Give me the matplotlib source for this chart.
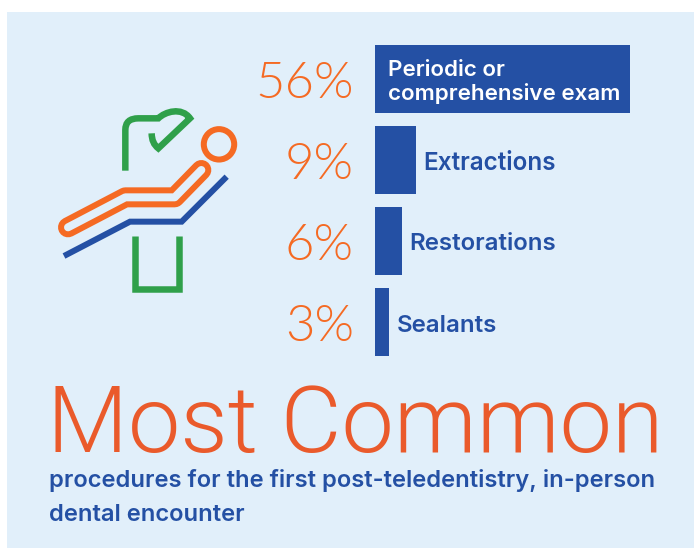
import os
import matplotlib
matplotlib.use("Agg")
import matplotlib.pyplot as plt
from matplotlib.patches import Rectangle, Circle, PathPatch
from matplotlib.path import Path
from matplotlib import font_manager as fm

# Chart data
categories = ["Periodic or\ncomprehensive exam", "Extractions", "Restorations", "Sealants"]
percents = [56, 9, 6, 3]
percent_labels = ["56%", "9%", "6%", "3%"]
title = "Most Common"
subtitle = ["procedures for the first post-teledentistry, in-person", "dental encounter"]

W, H = 694, 548
BG = "#E1EFFA"
BLUE = "#2450A4"
ORANGE = "#F56A23"
RED = "#EA5A2B"
GREEN = "#2FA04A"


def font_file(names, size):
    """Pick the first available face from a list of font file names."""
    files = {os.path.basename(f.fname): f.fname for f in fm.fontManager.ttflist}
    path = next(files[n] for n in names if n in files)
    return fm.FontProperties(fname=path, size=size)


LABEL_FACE = ["Inter-SemiBold.otf", "Inter-Medium.otf"]

fig = plt.figure(figsize=(W / 100, H / 100), dpi=100, facecolor="white")


def pixel_axes(z):
    ax = fig.add_axes([0, 0, 1, 1], zorder=z)
    ax.set_xlim(0, W)
    ax.set_ylim(H, 0)
    ax.axis("off")
    return ax


canvas = pixel_axes(0)
canvas.add_patch(Rectangle((7, 12), W - 7, 536, fc=BG, ec="none"))

# Horizontal bars on their own axes, 4.55 px per percentage point
bars = fig.add_axes([375 / W, 1 - 356 / H, 273 / W, 311 / H], zorder=1)
bars.barh(range(4), percents, height=68 / 81, color=BLUE)
bars.set_xlim(0, 60)
bars.set_ylim(3 + 34 / 81, -34 / 81)
bars.axis("off")

labels = pixel_axes(2)
centers = [79, 160, 241, 322]
text_x = [388, 423.5, 409.5, 397]
text_dy = [3, 3.5, 3.5, 3.5]
label_sizes = [16.1, 17.5, 17.3, 17.3]
for i, (y, pct, cat) in enumerate(zip(centers, percent_labels, categories)):
    labels.text(354, y + 19, pct, ha="right", va="baseline", color=ORANGE,
                fontproperties=font_file(["Lato-Light.ttf"], 36.5))
    labels.text(text_x[i], y + text_dy[i], cat, ha="left", va="center", linespacing=1.2,
                fontproperties=font_file(LABEL_FACE, label_sizes[i]),
                color="white" if i == 0 else BLUE)

labels.text(47, 452, title, ha="left", va="baseline", color=RED,
            fontproperties=font_file(["Roboto-Light.ttf"], 67.3))
labels.text(49, 487, subtitle[0], ha="left", va="baseline", color=BLUE,
            fontproperties=font_file(LABEL_FACE, 17.1))
labels.text(49, 521, subtitle[1], ha="left", va="baseline", color=BLUE,
            fontproperties=font_file(LABEL_FACE, 17.1))


# Dental chair icon, drawn on a 3x grid offset to its spot in the panel
def ic(x, y):
    return (40 + x / 3, 90 + y / 3)


def stroke(pts, color, px, **kw):
    xs, ys = zip(*[ic(*p) for p in pts])
    canvas.plot(xs, ys, color=color, lw=px * 0.72, **kw)


stroke([(284, 438), (284, 596), (418, 596), (418, 438)], GREEN, 6.5,
       solid_joinstyle="miter", solid_capstyle="butt")
stroke([(72, 498), (270, 395), (425, 395), (560, 260)], BLUE, 6,
       solid_joinstyle="miter", solid_capstyle="butt")
seat = [(84, 412), (256, 322), (404, 322), (484, 240)]
stroke(seat, ORANGE, 20, solid_joinstyle="round", solid_capstyle="round")
stroke(seat, BG, 8, solid_joinstyle="round", solid_capstyle="round")
canvas.add_patch(Circle(ic(537, 163), 15.2, fc="none", ec=ORANGE, lw=6 * 0.72))

lamp_verts = [(256, 242), (256, 120), (256, 85), (295, 85), (355, 85),
              (375, 65), (425, 50), (450, 85), (355, 175), (335, 160), (335, 130)]
lamp_codes = [Path.MOVETO, Path.LINETO, Path.CURVE3, Path.CURVE3, Path.LINETO,
              Path.CURVE4, Path.CURVE4, Path.CURVE4, Path.LINETO, Path.CURVE3, Path.CURVE3]
canvas.add_patch(PathPatch(Path([ic(*v) for v in lamp_verts], lamp_codes), fc="none",
                           ec=GREEN, lw=6.5 * 0.72, joinstyle="miter", capstyle="butt"))

fig.savefig("out.png", dpi=100, facecolor="white")
